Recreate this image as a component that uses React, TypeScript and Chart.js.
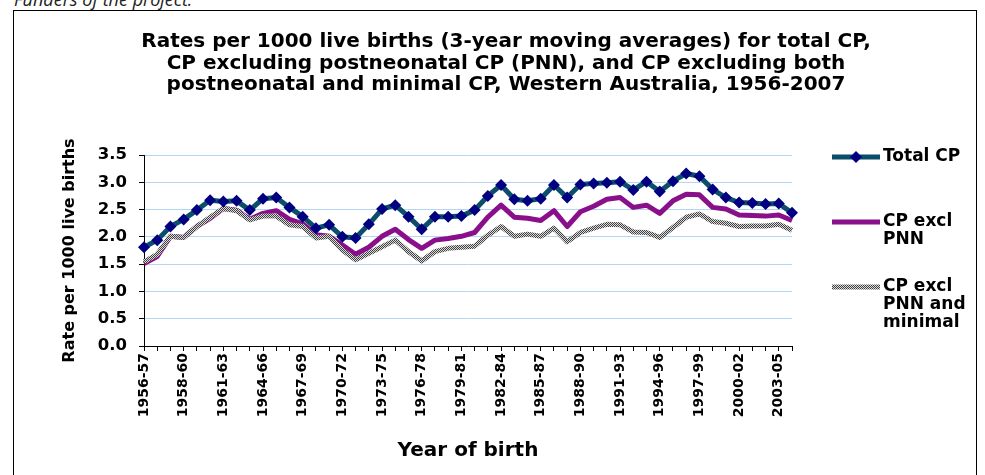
import React, { useEffect, useRef } from 'react';
import { Chart, registerables } from 'chart.js';

Chart.register(...registerables);

const categories = [
  '1956-57', '1956-58', '1957-59', '1958-60', '1959-61', '1960-62', '1961-63', '1962-64', '1963-65', '1964-66',
  '1965-67', '1966-68', '1967-69', '1968-70', '1969-71', '1970-72', '1971-73', '1972-74', '1973-75', '1974-76',
  '1975-77', '1976-78', '1977-79', '1978-80', '1979-81', '1980-82', '1981-83', '1982-84', '1983-85', '1984-86',
  '1985-87', '1986-88', '1987-89', '1988-90', '1989-91', '1990-92', '1991-93', '1992-94', '1993-95', '1994-96',
  '1995-97', '1996-98', '1997-99', '1998-00', '1999-01', '2000-02', '2001-03', '2002-04', '2003-05', '2004-06',
];

const totalCP = [
  1.81, 1.94, 2.19, 2.32, 2.49, 2.67, 2.65, 2.66, 2.49, 2.70,
  2.72, 2.54, 2.37, 2.16, 2.22, 2.00, 1.98, 2.23, 2.51, 2.58,
  2.37, 2.14, 2.37, 2.37, 2.38, 2.49, 2.75, 2.95, 2.69, 2.66,
  2.70, 2.95, 2.72, 2.96, 2.98, 2.99, 3.01, 2.86, 3.01, 2.83,
  3.02, 3.16, 3.11, 2.87, 2.72, 2.63, 2.62, 2.60, 2.61, 2.44,
];

const cpExclPNN = [
  1.51, 1.64, 2.01, 1.99, 2.19, 2.34, 2.52, 2.49, 2.32, 2.43,
  2.48, 2.32, 2.24, 2.04, 2.01, 1.85, 1.68, 1.81, 2.01, 2.14,
  1.95, 1.79, 1.94, 1.97, 2.01, 2.08, 2.36, 2.58, 2.36, 2.34,
  2.30, 2.48, 2.19, 2.46, 2.56, 2.69, 2.72, 2.54, 2.58, 2.43,
  2.66, 2.78, 2.77, 2.54, 2.51, 2.40, 2.39, 2.38, 2.40, 2.30,
];

const cpExclPNNMinimal = [
  1.54, 1.68, 2.01, 1.99, 2.19, 2.36, 2.52, 2.48, 2.31, 2.38,
  2.38, 2.22, 2.19, 1.98, 2.01, 1.76, 1.58, 1.70, 1.82, 1.94,
  1.73, 1.56, 1.73, 1.79, 1.81, 1.83, 2.03, 2.19, 2.01, 2.05,
  2.01, 2.16, 1.91, 2.08, 2.16, 2.23, 2.22, 2.09, 2.08, 1.99,
  2.17, 2.36, 2.42, 2.28, 2.25, 2.19, 2.20, 2.20, 2.23, 2.12,
];

const seriesLabels = ['Total CP', 'CP excl PNN', 'CP excl PNN and minimal'];
const legendLines = [['Total CP'], ['CP excl', 'PNN'], ['CP excl', 'PNN and', 'minimal']];

const titleLines = [
  'Rates per 1000 live births (3-year moving averages) for total CP,',
  'CP excluding postneonatal CP (PNN), and CP excluding both',
  'postneonatal and minimal CP, Western Australia, 1956-2007',
];

const yTitle = 'Rate per 1000 live births';
const xTitle = 'Year of birth';
const yMin = 0;
const yMax = 3.5;
const yStep = 0.5;
const labelEvery = 3;

const FONT = "'DejaVu Sans', sans-serif";

function makeChecker(ctx: CanvasRenderingContext2D) {
  const pc = document.createElement('canvas');
  pc.width = 2;
  pc.height = 2;
  const p = pc.getContext('2d')!;
  p.fillStyle = '#dcdcdc';
  p.fillRect(0, 0, 2, 2);
  p.fillStyle = '#404040';
  p.fillRect(0, 0, 1, 1);
  p.fillRect(1, 1, 1, 1);
  return ctx.createPattern(pc, 'repeat')!;
}

const sideLegend = {
  id: 'sideLegend',
  afterDraw(chart: any) {
    const { ctx, chartArea } = chart;
    const x0 = chartArea.right + 40;
    const x1 = chartArea.right + 88;
    const tx = chartArea.right + 91;
    const rows = [chartArea.top + 2, chartArea.top + 67, chartArea.top + 132];
    const lh = 18;
    ctx.save();
    chart.data.datasets.forEach((ds: any, i: number) => {
      const y = rows[i];
      ctx.beginPath();
      ctx.lineWidth = ds.borderWidth;
      ctx.strokeStyle = ds.borderColor;
      ctx.lineCap = 'butt';
      ctx.moveTo(x0, y);
      ctx.lineTo(x1, y);
      ctx.stroke();
      if (ds.pointRadius > 0) {
        const r = ds.pointRadius;
        const cx = (x0 + x1) / 2;
        ctx.beginPath();
        ctx.moveTo(cx, y - r);
        ctx.lineTo(cx + r, y);
        ctx.lineTo(cx, y + r);
        ctx.lineTo(cx - r, y);
        ctx.closePath();
        ctx.fillStyle = ds.pointBackgroundColor;
        ctx.fill();
      }
      ctx.fillStyle = '#000';
      ctx.font = `bold 17px ${FONT}`;
      ctx.textBaseline = 'middle';
      ctx.textAlign = 'left';
      legendLines[i].forEach((t, j) => ctx.fillText(t, tx, y + j * lh));
    });
    ctx.restore();
  },
};

export default function App() {
  const ref = useRef<HTMLCanvasElement>(null);

  useEffect(() => {
    document.body.style.margin = '0';
    const canvas = ref.current!;
    const ctx = canvas.getContext('2d')!;
    const checker = makeChecker(ctx);

    const chart = new Chart(ctx, {
      type: 'line',
      data: {
        labels: categories,
        datasets: [
          {
            label: seriesLabels[0],
            data: totalCP,
            borderColor: '#0b4d6b',
            borderWidth: 5,
            pointStyle: 'rectRot',
            pointRadius: 6,
            pointBackgroundColor: '#000080',
            pointBorderColor: '#000080',
            pointBorderWidth: 0,
            borderJoinStyle: 'round',
            tension: 0,
            order: 0,
          },
          {
            label: seriesLabels[1],
            data: cpExclPNN,
            borderColor: '#8a0f8a',
            borderWidth: 5,
            pointRadius: 0,
            borderJoinStyle: 'round',
            tension: 0,
            order: 2,
          },
          {
            label: seriesLabels[2],
            data: cpExclPNNMinimal,
            borderColor: checker,
            borderWidth: 5,
            pointRadius: 0,
            borderJoinStyle: 'round',
            tension: 0,
            order: 1,
          },
        ],
      },
      options: {
        animation: false,
        responsive: false,
        events: [],
        layout: { padding: { left: 27, right: 0, top: 0, bottom: 0 } },
        plugins: {
          legend: { display: false },
          tooltip: { enabled: false },
          title: {
            display: true,
            text: titleLines,
            color: '#000',
            font: { family: FONT, weight: 'bold', size: 20, lineHeight: 1.075 },
            padding: { top: 31.5, bottom: 59 },
          },
        },
        scales: {
          x: {
            type: 'category',
            offset: false,
            grid: { display: true, drawOnChartArea: false, drawTicks: true, tickLength: 5, tickColor: '#000', color: '#000' },
            border: { display: true, color: '#000', width: 1 },
            ticks: {
              autoSkip: false,
              maxRotation: 90,
              minRotation: 90,
              padding: 2,
              color: '#000',
              font: { family: FONT, weight: 'bold', size: 14 },
              callback: (_v: any, i: number) => (i % labelEvery === 0 ? categories[i] : ''),
            },
            title: {
              display: true,
              text: xTitle,
              color: '#000',
              font: { family: FONT, weight: 'bold', size: 20, lineHeight: 1.2 },
              padding: { top: 0, bottom: 12 },
            },
            afterFit: (s: any) => { s.height = 129; },
          },
          y: {
            min: yMin,
            max: yMax,
            grid: { color: '#b3d6f5', lineWidth: 1, tickColor: '#000', tickLength: 5 },
            border: { display: true, color: '#000', width: 1 },
            ticks: {
              stepSize: yStep,
              padding: 12,
              color: '#000',
              font: { family: FONT, weight: 'bold', size: 16.5 },
              callback: (v: any) => Number(v).toFixed(1),
            },
            title: {
              display: true,
              text: yTitle,
              color: '#000',
              font: { family: FONT, weight: 'bold', size: 16, lineHeight: 1.2 },
              padding: { top: 33.4, bottom: 0 },
            },
            afterFit: (s: any) => { s.width = 117; },
          },
          y2: {
            position: 'right',
            display: true,
            grid: { display: false },
            border: { display: false },
            ticks: { display: false },
            afterFit: (s: any) => { s.width = 193; },
          },
        },
      },
      plugins: [sideLegend],
    } as any);

    return () => chart.destroy();
  }, []);

  return (
    <div style={{ position: 'relative', width: 985, height: 475, overflow: 'hidden', background: '#fff' }}>
      <div
        style={{
          position: 'absolute', left: 14, top: -11, fontFamily: "'Open Sans', sans-serif",
          fontStyle: 'italic', fontSize: 18, lineHeight: '20px', color: '#222', whiteSpace: 'nowrap',
        }}
      >
        Funders of the project.
      </div>
      <canvas ref={ref} width={985} height={475} style={{ position: 'absolute', left: 0, top: 0 }} />
      <div
        style={{
          position: 'absolute', left: 13, top: 10, width: 962, height: 500,
          borderLeft: '1.5px solid #000', borderTop: '1.5px solid #000', borderRight: '1.5px solid #000',
          pointerEvents: 'none',
        }}
      />
    </div>
  );
}
